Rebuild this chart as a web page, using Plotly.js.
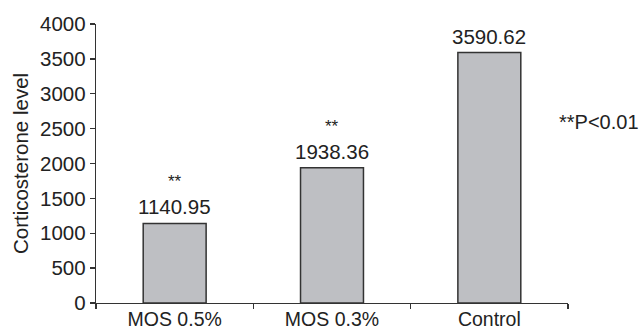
<!DOCTYPE html>
<html>
<head>
<meta charset="utf-8">
<script src="https://cdn.plot.ly/plotly-3.0.1.min.js"></script>
<style>html,body{margin:0;padding:0;background:#fff;}#chart{width:639px;height:331px;}</style>
</head>
<body>
<div id="chart"></div>
<script>
const categories = ["MOS 0.5%", "MOS 0.3%", "Control"];
const values = [1140.95, 1938.36, 3590.62];
const valueLabels = ["1140.95", "1938.36", "3590.62"];
const sigMarks = ["**", "**", ""];
const noteText = "**P<0.01";
const yTicks = [0, 500, 1000, 1500, 2000, 2500, 3000, 3500, 4000];

const font = "Liberation Sans, Arial, Helvetica, sans-serif";
const ink = "#222222";

const annotations = [];
categories.forEach((c, i) => {
  annotations.push({
    x: c, y: values[i], xref: "x", yref: "y",
    text: valueLabels[i], showarrow: false,
    yanchor: "bottom", yshift: 3,
    font: {family: font, size: 20.5, color: ink}
  });
  if (sigMarks[i]) {
    annotations.push({
      x: c, y: values[i], xref: "x", yref: "y",
      text: sigMarks[i], showarrow: false,
      yanchor: "bottom", yshift: 30,
      font: {family: font, size: 17, color: ink}
    });
  }
});
annotations.push({
  x: 0.976, xref: "paper", y: 2600, yref: "y",
  text: noteText, showarrow: false, xanchor: "left", yanchor: "middle",
  font: {family: font, size: 20, color: ink}
});

const data = [{
  type: "bar",
  x: categories,
  y: values,
  width: 0.4,
  marker: {color: "#bebfc3", line: {color: "#333333", width: 1.5}},
  hoverinfo: "skip"
}];

const layout = {
  width: 639, height: 331,
  margin: {l: 96, r: 71, t: 24, b: 28},
  paper_bgcolor: "#ffffff", plot_bgcolor: "#ffffff",
  showlegend: false,
  font: {family: font, size: 20, color: ink},
  xaxis: {
    type: "category",
    tickson: "boundaries",
    ticks: "outside", ticklen: 5, tickwidth: 1.3, tickcolor: "#333",
    showline: true, linecolor: "#333", linewidth: 1.3,
    showgrid: false, zeroline: false,
    ticklabelstandoff: -2,
    tickfont: {family: font, size: 19.5, color: ink},
    range: [-0.5, 2.5]
  },
  yaxis: {
    range: [0, 4000],
    tickvals: yTicks,
    ticks: "outside", ticklen: 5, tickwidth: 1.3, tickcolor: "#333",
    showline: true, linecolor: "#333", linewidth: 1.3,
    showgrid: false, zeroline: false,
    tickfont: {family: font, size: 20.5, color: ink},
    title: {text: "Corticosterone level", font: {family: font, size: 20.5, color: ink}, standoff: 5}
  },
  annotations: annotations
};

Plotly.newPlot("chart", data, layout, {staticPlot: true, displayModeBar: false});
</script>
</body>
</html>
